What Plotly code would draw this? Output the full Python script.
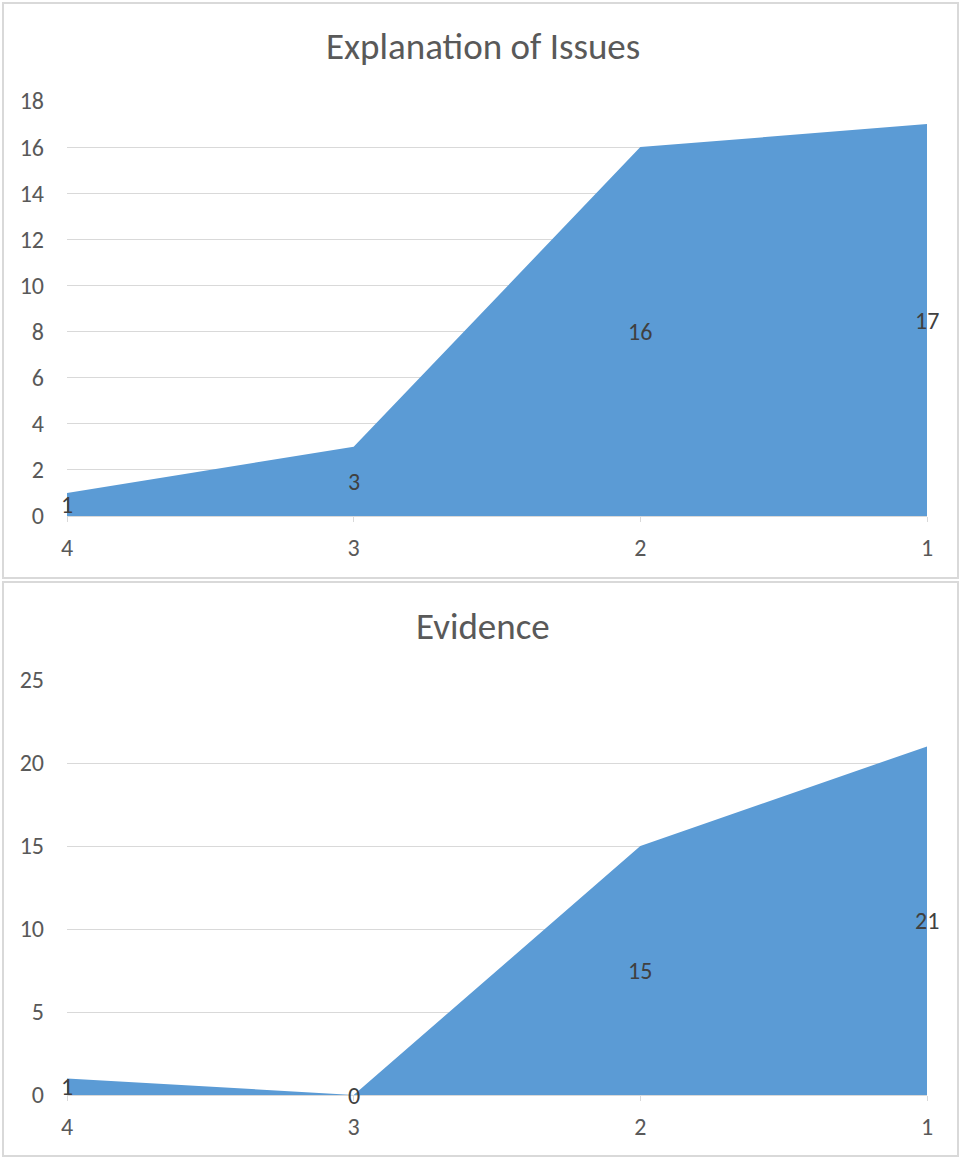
import plotly.graph_objects as go

# Rating categories shown left to right
categories = ["4", "3", "2", "1"]

# Counts per rating for each criterion
explanation_counts = [1, 3, 16, 17]
evidence_counts = [1, 0, 15, 21]

titles = ["Explanation of Issues", "Evidence"]
y_ticks_top = [0, 2, 4, 6, 8, 10, 12, 14, 16, 18]
y_ticks_bottom = [0, 5, 10, 15, 20, 25]

W, H = 961, 1158
FILL = "#5B9BD5"
GRID = "#D9D9D9"
TICK_TXT = "#595959"
LABEL_TXT = "#404040"
FONT = "Carlito, Open Sans"

xs = list(range(len(categories)))

fig = go.Figure()

panels = [
    dict(vals=explanation_counts, ticks=y_ticks_top, px_top=101, px_bot=516,
         title_y=47, box=(3, 3, 958, 578), xa="x", ya="y"),
    dict(vals=evidence_counts, ticks=y_ticks_bottom, px_top=680, px_bot=1095,
         title_y=626, box=(3, 582, 958, 1156), xa="x2", ya="y2"),
]

x_dom = [67 / W, 927 / W]

for i, p in enumerate(panels):
    fig.add_trace(go.Scatter(
        x=xs, y=p["vals"], mode="lines", fill="tozeroy",
        fillcolor=FILL, line=dict(width=0, color=FILL),
        xaxis=p["xa"], yaxis=p["ya"], hoverinfo="skip", showlegend=False,
    ))
    # value labels centred in the filled area
    for x, v in zip(xs, p["vals"]):
        fig.add_annotation(
            x=x, y=v / 2, text=str(v), showarrow=False,
            xref=p["xa"], yref=p["ya"],
            font=dict(family=FONT, size=24, color=LABEL_TXT),
        )
    suffix = "" if i == 0 else "2"
    ydom = [1 - p["px_bot"] / H, 1 - p["px_top"] / H]
    fig.layout["xaxis" + suffix] = dict(
        domain=x_dom, range=[0, len(categories) - 1],
        tickmode="array", tickvals=xs, ticktext=categories,
        showgrid=False, zeroline=False,
        showline=True, linecolor=GRID, linewidth=1,
        ticks="outside", ticklen=5, tickcolor=GRID,
        ticklabelstandoff=5, automargin=False,
        tickfont=dict(family=FONT, size=24, color=TICK_TXT),
        anchor="y" + suffix, fixedrange=True,
    )
    fig.layout["yaxis" + suffix] = dict(
        domain=ydom, range=[0, p["ticks"][-1]],
        tickmode="array", tickvals=p["ticks"],
        showgrid=True, gridcolor=GRID, gridwidth=1,
        zeroline=False, showline=False, ticks="",
        ticklabelstandoff=22, automargin=False,
        tickfont=dict(family=FONT, size=24, color=TICK_TXT),
        anchor="x" + suffix, fixedrange=True,
    )
    x0, y0, x1, y1 = p["box"]
    fig.add_shape(
        type="rect", xref="paper", yref="paper",
        x0=x0 / W, x1=x1 / W, y0=1 - y1 / H, y1=1 - y0 / H,
        line=dict(color=GRID, width=2), fillcolor="rgba(0,0,0,0)", layer="below",
    )
    fig.add_annotation(
        x=483 / W, y=1 - p["title_y"] / H, xref="paper", yref="paper",
        text=titles[i], showarrow=False, xanchor="center", yanchor="middle",
        font=dict(family=FONT, size=37, color=TICK_TXT),
    )

fig.update_layout(
    width=W, height=H, margin=dict(l=0, r=0, t=0, b=0),
    paper_bgcolor="white", plot_bgcolor="white",
)

fig.write_html(
    "out.html",
    post_script="document.body.style.margin='0';document.body.style.overflow='hidden';",
)
